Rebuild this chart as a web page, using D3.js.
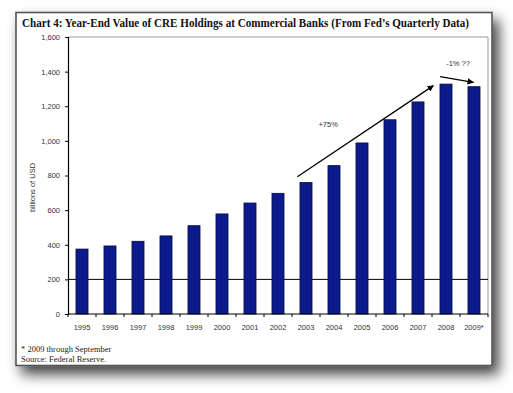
<!DOCTYPE html>
<html><head><meta charset="utf-8">
<script src="https://cdn.jsdelivr.net/npm/d3@7"></script>
<style>html,body{margin:0;padding:0;background:#fff;}svg{display:block;}</style>
</head><body>
<script>
const years = ["1995","1996","1997","1998","1999","2000","2001","2002","2003","2004","2005","2006","2007","2008","2009*"];
const values = [375, 393, 420, 451, 510, 578, 641, 697, 759, 857, 988, 1122, 1225, 1328, 1313];
const yTicks = [0, 200, 400, 600, 800, 1000, 1200, 1400, 1600];
const gridValues = [200];
const titleText = "Chart 4: Year-End Value of CRE Holdings at Commercial Banks (From Fed\u2019s Quarterly Data)";
const yLabel = "billions of USD";
const footnotes = ["* 2009 through September", "Source: Federal Reserve."];
// annotations in data space: [slot position along the category axis, value]
const arrowUp = {from: [8.19, 793], to: [13.05, 1319], label: "+75%", labelAt: [9.29, 1078]};
const arrowDown = {from: [13.29, 1371], to: [14.48, 1338], label: "-1% ??", labelAt: [13.93, 1430]};

const W = 513, H = 393;
const svg = d3.select("body").append("svg").attr("width", W).attr("height", H);
const defs = svg.append("defs");
const f = defs.append("filter").attr("id","sh").attr("x","-10%").attr("y","-10%").attr("width","130%").attr("height","130%");
f.append("feGaussianBlur").attr("in","SourceAlpha").attr("stdDeviation",7).attr("result","b");
f.append("feOffset").attr("in","b").attr("dx",6).attr("dy",8).attr("result","o");
f.append("feComponentTransfer").attr("in","o").attr("result","o2").append("feFuncA").attr("type","linear").attr("slope",0.75);
const m = f.append("feMerge"); m.append("feMergeNode").attr("in","o2"); m.append("feMergeNode").attr("in","SourceGraphic");

const mk = defs.append("marker").attr("id","arr").attr("viewBox","0 0 10 10").attr("refX",9).attr("refY",5)
  .attr("markerWidth",5).attr("markerHeight",5).attr("orient","auto");
mk.append("path").attr("d","M0,0 L10,5 L0,10 z").attr("fill","#000");

// card
svg.append("rect").attr("x",16).attr("y",12.5).attr("width",476).attr("height",353)
  .attr("fill","#fff").attr("stroke","#555").attr("stroke-width",1.6).attr("filter","url(#sh)");

svg.append("text").attr("x",22).attr("y",27).attr("font-family","Liberation Serif, Times New Roman, serif")
  .attr("font-weight","bold").attr("font-size",11.5).attr("fill","#111")
  .attr("textLength",447).attr("lengthAdjust","spacingAndGlyphs").text(titleText);

const L = 68, R = 488, T = 37, B = 314;
const x = d3.scaleBand().domain(years).range([L, R]).paddingInner(0.57).paddingOuter(0.285);
const y = d3.scaleLinear().domain([0, 1600]).range([B, T]);
const step = x.step();
const xPos = v => L + v * step; // slot position (0 = left edge of first slot)

// plot border top/right
svg.append("path").attr("d",`M${L},${T}H${R}V${B}`).attr("fill","none").attr("stroke","#9a9a9a").attr("stroke-width",1);

// grid line
svg.selectAll(".grid").data(gridValues).join("line").attr("x1",L).attr("x2",R)
  .attr("y1",d=>y(d)).attr("y2",d=>y(d)).attr("stroke","#000").attr("stroke-width",1);

// bars
svg.selectAll(".bar").data(values).join("rect")
  .attr("x",(d,i)=>x(years[i])).attr("width",x.bandwidth())
  .attr("y",d=>y(d)).attr("height",d=>B-y(d))
  .attr("fill","#0d1a8e").attr("stroke","#050a40").attr("stroke-width",0.8);

// y axis
const ya = svg.append("g").attr("transform",`translate(${L},0)`)
  .call(d3.axisLeft(y).tickValues(yTicks).tickSize(3).tickPadding(5).tickFormat(d3.format(",")));
ya.select(".domain").attr("stroke","#000").attr("stroke-width",1.2);
ya.selectAll("line").attr("stroke","#000");
ya.selectAll("text").attr("font-family","Liberation Sans, Arial, sans-serif").attr("font-size",7.5).attr("fill","#333");

// x axis with ticks at slot boundaries
const xa = svg.append("g").attr("transform",`translate(0,${B})`);
xa.append("line").attr("x1",L).attr("x2",R).attr("stroke","#000").attr("stroke-width",1.2);
xa.selectAll(".tk").data(d3.range(years.length+1)).join("line")
  .attr("x1",i=>xPos(i)).attr("x2",i=>xPos(i)).attr("y1",0).attr("y2",3).attr("stroke","#000");
xa.selectAll(".lb").data(years).join("text")
  .attr("x",d=>x(d)+x.bandwidth()/2).attr("y",16).attr("text-anchor","middle")
  .attr("font-family","Liberation Sans, Arial, sans-serif").attr("font-size",7.5).attr("fill","#333").text(d=>d);

// y label
svg.append("text").attr("transform",`translate(35,${(T+B)/2+12}) rotate(-90)`).attr("text-anchor","middle")
  .attr("font-family","Liberation Sans, Arial, sans-serif").attr("font-size",7.5).attr("fill","#333").text(yLabel);

// annotations
[arrowUp, arrowDown].forEach(a=>{
  svg.append("line").attr("x1",xPos(a.from[0])).attr("y1",y(a.from[1]))
    .attr("x2",xPos(a.to[0])).attr("y2",y(a.to[1])).attr("stroke","#000").attr("stroke-width",1.3)
    .attr("marker-end","url(#arr)");
  svg.append("text").attr("x",xPos(a.labelAt[0])).attr("y",y(a.labelAt[1])).attr("text-anchor","middle")
    .attr("font-family","Liberation Sans, Arial, sans-serif").attr("font-size",7.5).attr("fill","#333").text(a.label);
});

// footnotes
svg.selectAll(".fn").data(footnotes).join("text").attr("x",21).attr("y",(d,i)=>352+i*10)
  .attr("font-family","Liberation Serif, Times New Roman, serif").attr("font-size",8.5).attr("fill","#222").text(d=>d);
</script>
</body></html>
